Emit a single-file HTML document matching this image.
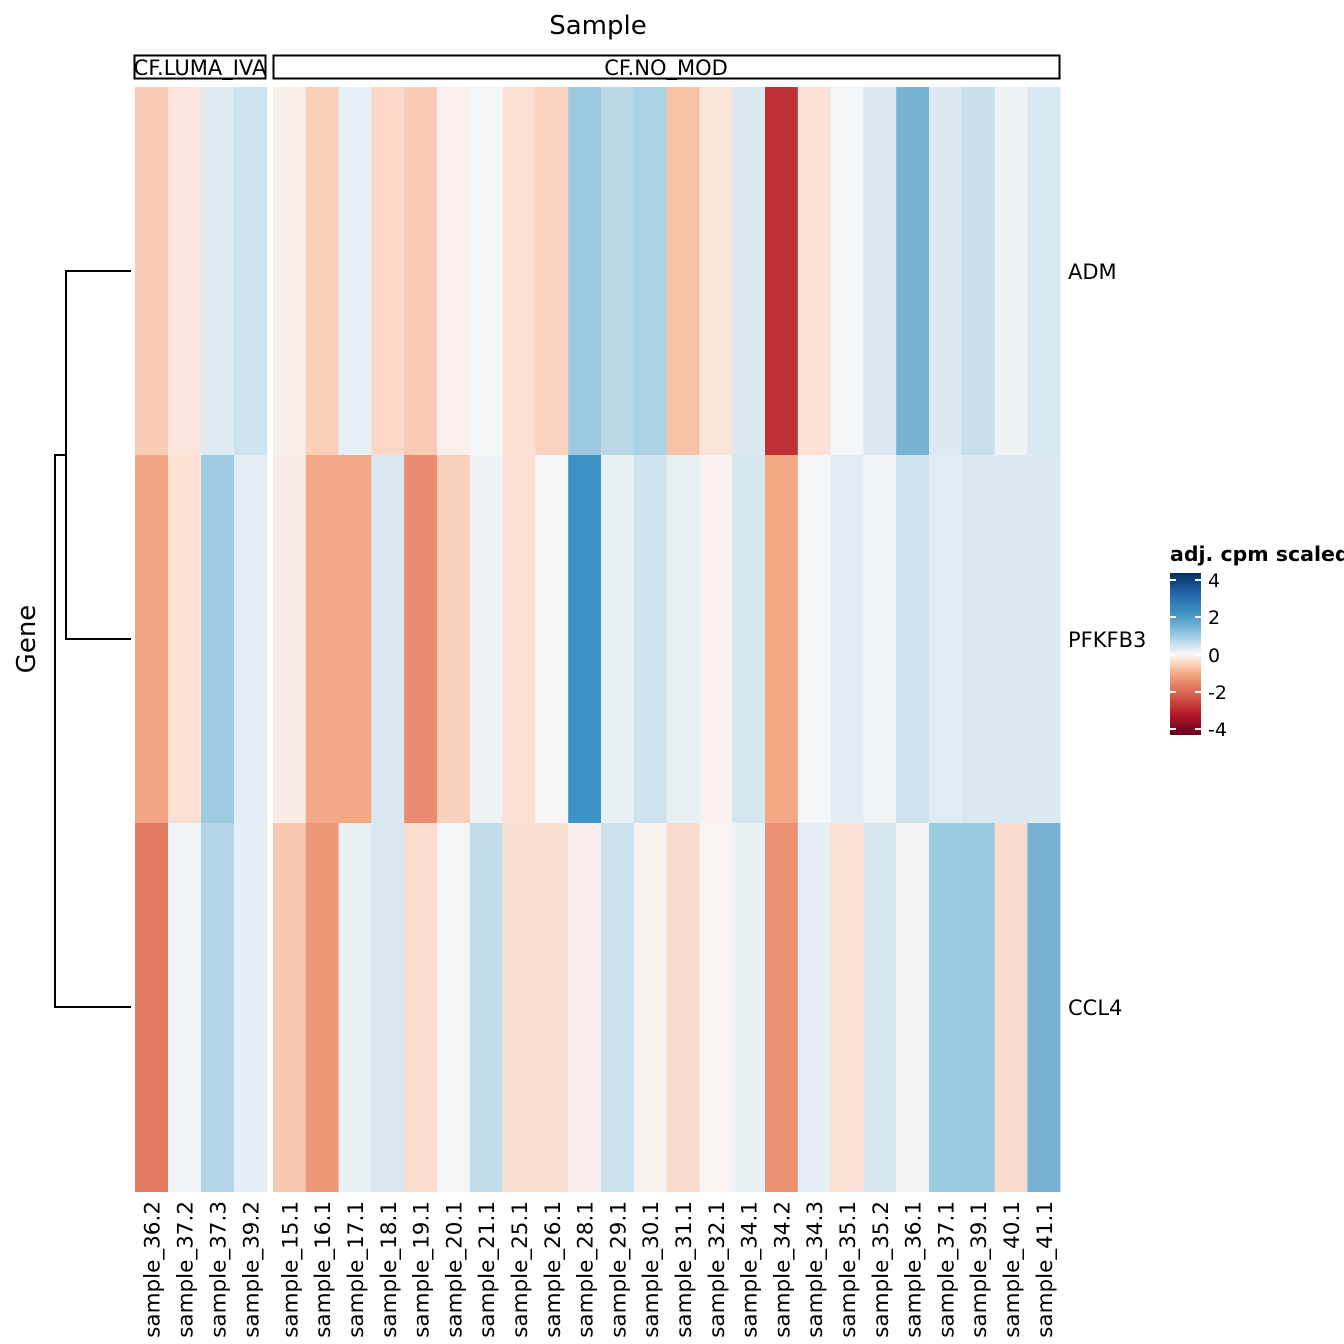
<!DOCTYPE html>
<html><head><meta charset="utf-8"><style>body{margin:0;background:#fff}svg{display:block}text{font-family:"DejaVu Sans","Liberation Sans",sans-serif;fill:#000}</style></head>
<body>
<svg id="s" width="1344" height="1344" xmlns="http://www.w3.org/2000/svg">
<defs><linearGradient id="g" x1="0" y1="1" x2="0" y2="0">
<stop offset="0" stop-color="#67001f"/><stop offset="0.125" stop-color="#b2182b"/><stop offset="0.25" stop-color="#d6604d"/><stop offset="0.375" stop-color="#f4a582"/><stop offset="0.45" stop-color="#fddbc7"/><stop offset="0.5" stop-color="#f7f7f7"/><stop offset="0.55" stop-color="#d1e5f0"/><stop offset="0.625" stop-color="#92c5de"/><stop offset="0.75" stop-color="#4393c3"/><stop offset="0.875" stop-color="#2166ac"/><stop offset="1" stop-color="#053061"/></linearGradient></defs>
<g id="cells"></g>
<text x="598" y="34" font-size="26" text-anchor="middle">Sample</text>
<rect x="134.5" y="55.5" width="131" height="23" fill="none" stroke="#000" stroke-width="2"/>
<rect x="273.5" y="55.5" width="786" height="23" fill="none" stroke="#000" stroke-width="2"/>
<text x="200" y="75" font-size="21" text-anchor="middle">CF.LUMA_IVA</text>
<text x="666" y="75" font-size="21" text-anchor="middle">CF.NO_MOD</text>
<g stroke="#000" stroke-width="2" fill="none">
<path d="M131 271H66V639H131"/><path d="M66 455H55V1007H131"/>
</g>
<text x="1068" y="279" font-size="21">ADM</text>
<text x="1068" y="647" font-size="21">PFKFB3</text>
<text x="1068" y="1015" font-size="21">CCL4</text>
<text transform="translate(35,639) rotate(-90)" font-size="26" text-anchor="middle">Gene</text>
<text x="1170" y="561" font-size="20.5" font-weight="bold">adj. cpm scaled</text>
<rect x="1170" y="573" width="31" height="162" fill="url(#g)"/>
<g stroke="#fff" stroke-width="2">
<path d="M1170 580h6M1195 580h6M1170 617h6M1195 617h6M1170 655h6M1195 655h6M1170 692h6M1195 692h6M1170 729h6M1195 729h6"/></g>
<g font-size="19"><text x="1208" y="587">4</text><text x="1208" y="624">2</text><text x="1208" y="662">0</text><text x="1208" y="699">-2</text><text x="1208" y="736">-4</text></g>
<g font-size="21.5" text-anchor="end">
<text transform="translate(159.5,1201) rotate(-90)">sample_36.2</text>
<text transform="translate(192.5,1201) rotate(-90)">sample_37.2</text>
<text transform="translate(225.5,1201) rotate(-90)">sample_37.3</text>
<text transform="translate(258.5,1201) rotate(-90)">sample_39.2</text>
<text transform="translate(297.4,1201) rotate(-90)">sample_15.1</text>
<text transform="translate(330.2,1201) rotate(-90)">sample_16.1</text>
<text transform="translate(363,1201) rotate(-90)">sample_17.1</text>
<text transform="translate(395.8,1201) rotate(-90)">sample_18.1</text>
<text transform="translate(428.6,1201) rotate(-90)">sample_19.1</text>
<text transform="translate(461.4,1201) rotate(-90)">sample_20.1</text>
<text transform="translate(494.2,1201) rotate(-90)">sample_21.1</text>
<text transform="translate(527,1201) rotate(-90)">sample_25.1</text>
<text transform="translate(559.8,1201) rotate(-90)">sample_26.1</text>
<text transform="translate(592.6,1201) rotate(-90)">sample_28.1</text>
<text transform="translate(625.4,1201) rotate(-90)">sample_29.1</text>
<text transform="translate(658.2,1201) rotate(-90)">sample_30.1</text>
<text transform="translate(691,1201) rotate(-90)">sample_31.1</text>
<text transform="translate(723.8,1201) rotate(-90)">sample_32.1</text>
<text transform="translate(756.6,1201) rotate(-90)">sample_34.1</text>
<text transform="translate(789.4,1201) rotate(-90)">sample_34.2</text>
<text transform="translate(822.2,1201) rotate(-90)">sample_34.3</text>
<text transform="translate(855,1201) rotate(-90)">sample_35.1</text>
<text transform="translate(887.8,1201) rotate(-90)">sample_35.2</text>
<text transform="translate(920.6,1201) rotate(-90)">sample_36.1</text>
<text transform="translate(953.4,1201) rotate(-90)">sample_37.1</text>
<text transform="translate(986.2,1201) rotate(-90)">sample_39.1</text>
<text transform="translate(1019,1201) rotate(-90)">sample_40.1</text>
<text transform="translate(1051.8,1201) rotate(-90)">sample_41.1</text>
</g>
</svg>
<script>
var rows=[
["#f9cbb5","#fbe5dc","#deebf2","#cde3ee","#f9ede8","#f9cfb9","#e6f0f4","#fad8c8","#f9cbb5","#f9efec","#f4f5f6","#fbe0d4","#f9d1bc","#9ccae0","#b9d7e7","#abd2e5","#f7c2a6","#fbe4d7","#dce9f1","#bd3035","#fbe1d5","#f3f5f7","#d9e8f1","#79b3d4","#dbe9f1","#c7dfeb","#edf2f4","#d7e8f0"],
["#f3a684","#fbe0d4","#9ecbe0","#e5edf4","#f8eae5","#f3a887","#f3a887","#dae8f1","#e98c71","#f9d0bb","#edf2f5","#fbe0d3","#f6f6f6","#3d92c5","#e8f1f4","#cee3ef","#e7eff3","#f8f1ee","#d5e6f0","#f4a784","#f4f5f6","#e3ecf3","#eff3f5","#cde3ee","#e0ecf2","#d9e8f1","#d9e8f1","#dbe9f1"],
["#e27b62","#eff3f5","#b3d3e6","#e6edf4","#f9c8b0","#ee9779","#e8f0f4","#d9e7f0","#fbdccd","#f2f4f6","#c1dcea","#fbdfd2","#fbdfd2","#f8efec","#cbe2ed","#f8f2ef","#fbdace","#f8f3f0","#eaf1f5","#ea9174","#e6eef4","#fce0d3","#d7e7f0","#f1f3f2","#9ccae0","#9ac8de","#fbdbcd","#7ab2d4"]];
var ys=[87,455,823],h=368.3,s="";
for(var r=0;r<3;r++)for(var c=0;c<28;c++){var x,w;if(c<4){x=135+33*c;w=33.3}else{x=273+32.8*(c-4);w=33.1}
s+='<rect x="'+x+'" y="'+ys[r]+'" width="'+w+'" height="'+(r==2?369:h+0.3)+'" fill="'+rows[r][c]+'"/>';}
document.getElementById("cells").innerHTML=s;
</script>
</body></html>
